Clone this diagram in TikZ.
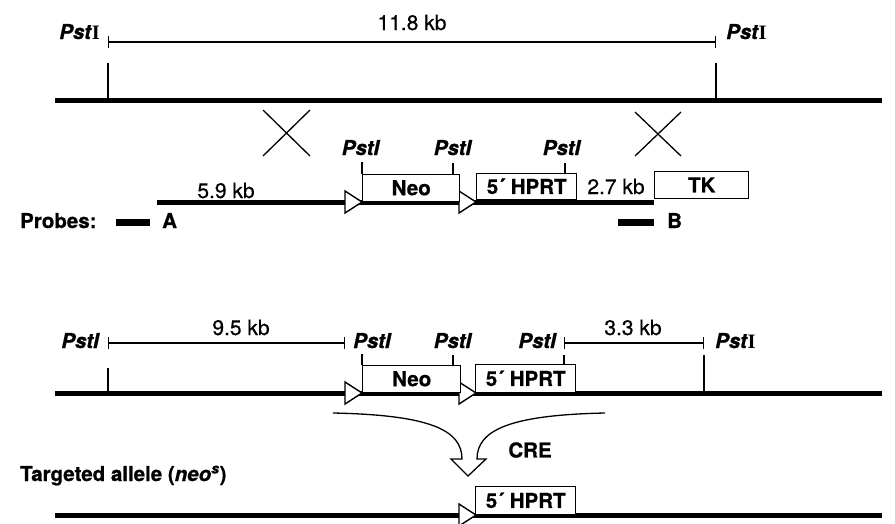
\documentclass[tikz,border=0pt]{standalone}
\usepackage{fontspec}
\setmainfont{TeX Gyre Heros}[BoldFeatures={FakeBold=0.8}, BoldItalicFeatures={FakeBold=0.8}]
\newfontfamily\kbfont{TeX Gyre Heros}[FakeBold=0.5]
\newfontfamily\romanI{Liberation Serif}
\usetikzlibrary{arrows.meta,positioning}

\begin{document}
\begin{tikzpicture}[x=1pt, y=-1pt,
  every node/.style={font=\fontsize{20.5}{24}\selectfont\bfseries, inner sep=0pt},
  caja/.style={rectangle, draw, line width=1.4pt, fill=white, anchor=south west, minimum height=27pt},
  cromo/.style={line width=5pt},
  corte/.style={line width=1.3pt},
  medida/.style={line width=1.3pt, {Bar[width=12pt]}-{Bar[width=12pt]}},
  kb/.style={font=\fontsize{21}{24}\kbfont},
  loxp/.style={draw, line width=1.4pt, fill=white, line join=miter},
  sonda/.style={line width=7pt}]
\useasboundingbox (0,0) rectangle (895,523);

% wild-type locus
\coordinate (wa) at (55,100);
\coordinate (wb) at (882,100);
\draw[cromo] (wa) -- (wb);
\coordinate (ma) at (108,42);
\coordinate (mb) at (716,42);
\draw[medida] (ma) -- (mb);
\node[kb, anchor=base] (d118) at (412,30) {11.8 kb};
\node[anchor=base east] (pwa) at (100,39) {\textit{Pst}{\romanI I}};
\node[anchor=base west] (pwb) at (726,39) {\textit{Pst}{\romanI I}};
\draw[corte] (108,63) -- (108,100);
\draw[corte] (716,63) -- (716,100);
% crossovers
\draw[corte] (263,110) -- (310,156) (310,110) -- (263,156);
\draw[corte] (635,112) -- (681,156) (681,112) -- (635,156);

% targeting vector
\draw[cromo] (157,202) -- (654,202);
\draw[loxp] (345,191) -- (362,202) -- (345,213) -- cycle;
\draw[loxp] (459,191) -- (476,202) -- (459,213) -- cycle;
\node[caja, minimum width=97pt] (neo) at (362,202) {Neo};
\node[caja, minimum width=100pt, minimum height=26pt] (hprt) at (476,200) {5\textasciiacute\ HPRT};
\node[caja, minimum width=94pt] (tk) at (654,199) {TK};
\node[anchor=base] (pv1) at (361,155) {\textit{PstI}};
\node[anchor=base] (pv2) at (453,155) {\textit{PstI}};
\node[anchor=base] (pv3) at (562,155) {\textit{PstI}};
\draw[corte] (neo.north west) -- ++(0,-12);
\draw[corte] (453,175) -- (453,163);
\draw[corte] (565,174) -- (565,163);
\node[kb, anchor=base] (d59) at (226,198) {5.9 kb};
\node[kb, anchor=base] (d27) at (616,194) {2.7 kb};

% probes
\node[anchor=base west] (probes) at (20,228) {Probes:};
\draw[sonda] (116,222) -- (150,222);
\node[anchor=base west] (pa) at (162,228) {A};
\draw[sonda] (618,222) -- (654,222);
\node[anchor=base west] (pb) at (667,228) {B};

% targeted locus
\coordinate (ta) at (55,393);
\coordinate (tb) at (882,393);
\draw[cromo] (ta) -- (tb);
\draw[loxp] (345,382) -- (362,393) -- (345,404) -- cycle;
\draw[loxp] (459,382) -- (476,393) -- (459,404) -- cycle;
\node[caja, minimum width=98pt] (neo2) at (362,393) {Neo};
\node[caja, minimum width=100pt, minimum height=28pt] (hprt2) at (475,393) {5\textasciiacute\ HPRT};
\draw[medida] (108,343) -- (345,343);
\draw[medida] (564,343) -- (704,343);
\node[kb, anchor=base] (d95) at (241,335) {9.5 kb};
\node[kb, anchor=base] (d33) at (633,335) {3.3 kb};
\node[anchor=base east] (pt1) at (100,348) {\textit{PstI}};
\node[anchor=base west] (pt2) at (353,348) {\textit{PstI}};
\node[anchor=base] (pt3) at (453,348) {\textit{PstI}};
\node[anchor=base east] (pt4) at (557,348) {\textit{PstI}};
\node[anchor=base west] (pt5) at (715,348) {\textit{Pst}{\romanI I}};
\draw[corte] (108,368) -- (108,393);
\draw[corte] (neo2.north west) -- ++(0,-11);
\draw[corte] (453,366) -- (453,355);
\draw[corte] (564,365) -- (564,355);
\draw[corte] (704,355) -- (704,393);

% cre excision
\draw[corte, line join=miter] (333,413) .. controls (430,415) and (462,430) .. (462,459)
  -- (451,459) -- (468,476) -- (486,459) -- (477,459)
  .. controls (477,430) and (510,415) .. (605,413);
\node (cre) at (530,450) {CRE};
\node[anchor=base west] (allele) at (20,481) {Targeted allele (\textit{neo}\textsuperscript{\textit{s}})};

% deleted allele
\coordinate (da) at (55,515);
\coordinate (db) at (882,515);
\draw[cromo] (da) -- (db);
\draw[loxp] (459,504) -- (476,515) -- (459,526) -- cycle;
\node[caja, minimum width=100pt, minimum height=28pt] (hprt3) at (475,515) {5\textasciiacute\ HPRT};
\end{tikzpicture}
\end{document}
